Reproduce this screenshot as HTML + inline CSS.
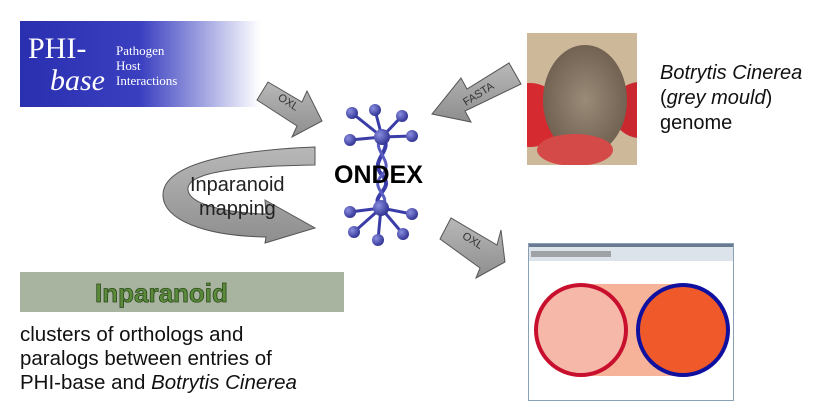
<!DOCTYPE html>
<html><head><meta charset="utf-8"><style>
body{margin:0;background:#fff;width:819px;height:419px;overflow:hidden}
svg{display:block;font-family:"Liberation Sans",sans-serif}
</style></head><body>
<svg width="819" height="419" viewBox="0 0 819 419">
<defs>
<linearGradient id="phig" x1="0" x2="1"><stop offset="0" stop-color="#2a2fb0"/><stop offset="0.5" stop-color="#3a3fc0"/><stop offset="1" stop-color="#fff"/></linearGradient>
<linearGradient id="arrg" x1="0" x2="0" y1="0" y2="1"><stop offset="0" stop-color="#b8b8b8"/><stop offset="1" stop-color="#8e8e8e"/></linearGradient>
<radialGradient id="ball" cx="0.35" cy="0.35" r="0.7"><stop offset="0" stop-color="#8a8ee0"/><stop offset="1" stop-color="#2e3190"/></radialGradient>
<radialGradient id="berry" cx="0.5" cy="0.5" r="0.6"><stop offset="0" stop-color="#9a8a78"/><stop offset="1" stop-color="#6a5a4a"/></radialGradient>
<clipPath id="sclip"><rect x="527" y="33" width="110" height="132"/></clipPath>
</defs>
<g>
<rect x="20" y="21" width="240" height="86" fill="url(#phig)"/>
<text x="28" y="58" font-family="Liberation Serif" font-size="30" fill="#fff">PHI-</text>
<text x="50" y="90" font-family="Liberation Serif" font-style="italic" font-size="30" fill="#fff">base</text>
<text x="116" y="55" font-family="Liberation Serif" font-size="13" fill="#fff">Pathogen</text>
<text x="116" y="70" font-family="Liberation Serif" font-size="13" fill="#fff">Host</text>
<text x="116" y="85" font-family="Liberation Serif" font-size="13" fill="#fff">Interactions</text>
</g>
<g>
<polygon points="257,100 268,82 302,102 307,91 322,121 292,137 297,126" fill="url(#arrg)" stroke="#555" stroke-width="1"/>
<text x="276" y="103" font-size="11" fill="#333" transform="rotate(32 283 103)">OXL</text>
</g>
<g>
<polygon points="521,84 509,63 467,89 461,78 432,114 471,122 465,111" fill="url(#arrg)" stroke="#555" stroke-width="1"/>
<text x="463" y="100" font-size="11" fill="#333" transform="rotate(-32 475 98)">FASTA</text>
</g>
<g clip-path="url(#sclip)">
<rect x="527" y="33" width="110" height="132" fill="#cdb89a"/>
<circle cx="530" cy="115" r="32" fill="#d42a30"/>
<circle cx="640" cy="110" r="28" fill="#c8282e"/>
<ellipse cx="585" cy="100" rx="42" ry="55" fill="url(#berry)"/>
<ellipse cx="575" cy="150" rx="38" ry="16" fill="#d44a48"/>
</g>
<g font-size="20" fill="#111">
<text x="660" y="79" font-style="italic">Botrytis Cinerea</text>
<text x="660" y="104">(<tspan font-style="italic">grey mould</tspan>)</text>
<text x="660" y="129">genome</text>
</g>
<g>
<path d="M315,147 L315,165 C240,166 190,172 188,188 C186,205 230,213 266,214 L265,200 L315,228 L265,243 L266,237 C205,236 163,220 163,195 C163,162 240,150 315,147 Z" fill="url(#arrg)" stroke="#555" stroke-width="1"/>
<text x="190" y="191" font-size="20" fill="#222">Inparanoid</text>
<text x="199" y="215" font-size="20" fill="#222">mapping</text>
</g>
<g>
<path d="M382,137 C395,150 368,160 382,175 C396,190 368,195 381,208" stroke="#3a3da8" stroke-width="4" fill="none"/>
<path d="M382,137 C369,150 396,160 382,175 C368,190 394,195 381,208" stroke="#5a5dc0" stroke-width="3" fill="none"/>
<g stroke="#3a3da8" stroke-width="3">
<line x1="382" y1="137" x2="352" y2="113"/><line x1="382" y1="137" x2="375" y2="110"/><line x1="382" y1="137" x2="402" y2="116"/><line x1="382" y1="137" x2="412" y2="136"/><line x1="382" y1="137" x2="350" y2="140"/>
<line x1="381" y1="208" x2="350" y2="212"/><line x1="381" y1="208" x2="354" y2="232"/><line x1="381" y1="208" x2="378" y2="240"/><line x1="381" y1="208" x2="403" y2="234"/><line x1="381" y1="208" x2="412" y2="214"/>
</g>
<g fill="url(#ball)">
<circle cx="382" cy="137" r="8"/><circle cx="381" cy="208" r="8"/>
<circle cx="352" cy="113" r="6"/><circle cx="375" cy="110" r="6"/><circle cx="402" cy="116" r="6"/><circle cx="412" cy="136" r="6"/><circle cx="350" cy="140" r="6"/>
<circle cx="350" cy="212" r="6"/><circle cx="354" cy="232" r="6"/><circle cx="378" cy="240" r="6"/><circle cx="403" cy="234" r="6"/><circle cx="412" cy="214" r="6"/>
</g>
<text x="334" y="183" font-size="25" font-weight="bold" fill="#000">ONDEX</text>
</g>
<g>
<polygon points="440,239 451,218 497,245 501,230 505,262 476,278 480,268" fill="url(#arrg)" stroke="#555" stroke-width="1"/>
<text x="460" y="243" font-size="11" fill="#333" transform="rotate(32 470 243)">OXL</text>
</g>
<g>
<rect x="528.5" y="243.5" width="205" height="157" fill="#fff" stroke="#8aa0b4"/>
<rect x="529" y="244" width="204" height="17" fill="#dde3ea"/>
<rect x="529" y="244" width="204" height="3" fill="#6a7a90"/>
<rect x="531" y="251" width="80" height="6" fill="#777" opacity="0.6"/>
<path d="M578,284 L683,284 L683,376 L578,376 Z" fill="#f4a080" opacity="0.8"/>
<circle cx="581" cy="330" r="45" fill="#f6b8a8" stroke="#c8102e" stroke-width="4"/>
<circle cx="683" cy="330" r="45" fill="#f05a2a" stroke="#1010a0" stroke-width="4"/>
</g>
<g>
<rect x="20" y="272" width="324" height="40" fill="#a8b4a0"/>
<text x="95" y="302" font-size="26" font-weight="bold" fill="#5a8a3a" stroke="#2a4a1a" stroke-width="0.8">Inparanoid</text>
</g>
<g font-size="20.5" fill="#111">
<text x="20" y="341">clusters of orthologs and</text>
<text x="20" y="365">paralogs between entries of</text>
<text x="20" y="389">PHI-base and <tspan font-style="italic">Botrytis Cinerea</tspan></text>
</g>
</svg>
</body></html>
